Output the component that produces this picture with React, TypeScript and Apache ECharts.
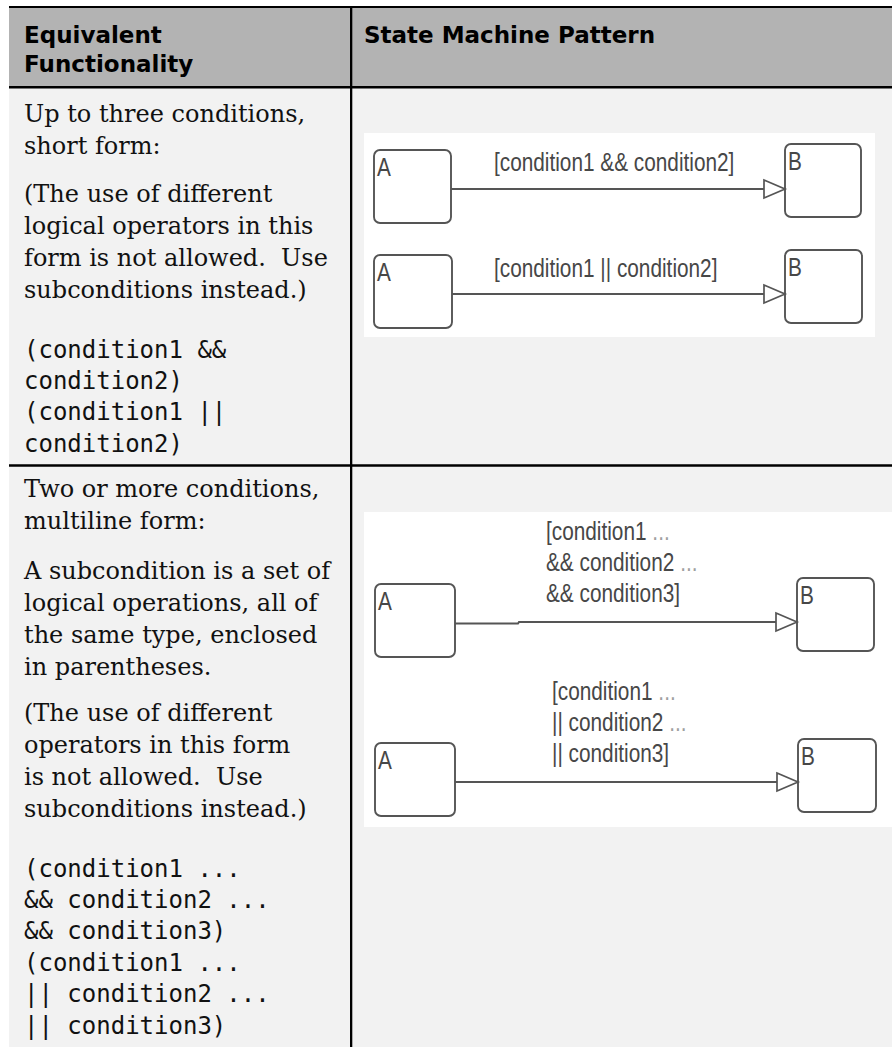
import React, { useEffect, useRef } from "react";
import * as echarts from "echarts";

// ---- content ----
const headerLeft = ["Equivalent", "Functionality"];
const headerRight = ["State Machine Pattern"];

const row1Prose = [
  ["Up to three conditions,", "short form:"],
  ["(The use of different", "logical operators in this", "form is not allowed.  Use", "subconditions instead.)"],
];
const row1Code = ["(condition1 &&", "condition2)", "(condition1 ||", "condition2)"];

const row2Prose = [
  ["Two or more conditions,", "multiline form:"],
  ["A subcondition is a set of", "logical operations, all of", "the same type, enclosed", "in parentheses."],
  ["(The use of different", "operators in this form", "is not allowed.  Use", "subconditions instead.)"],
];
const row2Code = ["(condition1 ...", "&& condition2 ...", "&& condition3)", "(condition1 ...", "|| condition2 ...", "|| condition3)"];

const stateNames = ["A", "B"];
const shortFormLabels = [["[condition1 && condition2]"], ["[condition1 || condition2]"]];
const multilineLabels = [
  ["[condition1 ...", "&& condition2 ...", "&& condition3]"],
  ["[condition1 ...", "|| condition2 ...", "|| condition3]"],
];

// ---- layout ----
const W = 892;
const H = 1047;
const TABLE_L = 9;
const COL_X = 350;
const TEXT_X = 24;
const RIGHT_TEXT_X = 364;
const SERIF = "'DejaVu Serif', serif";
const SANS_BOLD = "'DejaVu Sans', sans-serif";
const MONO = "'DejaVu Sans Mono', monospace";
const DIAG = "'Liberation Sans', Arial, sans-serif";
const PROSE_FS = 24;
const MONO_FS = 24;
const DIAG_FS = 26;
const DIAG_SX = 0.8;
const DIAG_COLOR = "#474747";
const DOTS_COLOR = "#a0a0a0";
const BOX_STROKE = "#555555";

function richify(text: string) {
  // render trailing ellipsis in lighter grey, like the diagram source
  return text.replace(/\.\.\./g, "{dots|...}");
}

function textEl(text: string, x: number, baseline: number, fs: number, family: string, opts: any = {}) {
  const style: any = {
    text: opts.rich ? richify(text) : text,
    fontSize: fs,
    fontFamily: family,
    fontWeight: opts.weight ?? "normal",
    fill: opts.color ?? "#111",
    align: "left",
    verticalAlign: "middle",
  };
  if (opts.rich) {
    style.rich = { dots: { fill: DOTS_COLOR, fontSize: fs, fontFamily: family } };
  }
  return {
    type: "text",
    x,
    y: baseline - 0.346 * fs,
    scaleX: opts.scaleX ?? 1,
    silent: true,
    style,
  };
}

function block(lines: string[], x: number, startBaseline: number, fs: number, family: string, lh: number, opts: any = {}) {
  return lines.map((t, i) => textEl(t, x, startBaseline + i * lh, fs, family, opts));
}

function stateBox(name: string, x: number, y: number, w: number, h: number) {
  return [
    {
      type: "rect",
      silent: true,
      shape: { x, y, width: w, height: h, r: 6 },
      style: { fill: "#fff", stroke: BOX_STROKE, lineWidth: 1.9 },
    },
    textEl(name, x + 3, y + 26, DIAG_FS, DIAG, { scaleX: 0.8, color: DIAG_COLOR }),
  ];
}

function transition(t: any, labels: string[]) {
  const els: any[] = [];
  els.push(...stateBox(stateNames[0], t.ax, t.ay, t.aw, 73));
  els.push(...stateBox(stateNames[1], t.bx, t.by, t.bw, 73));
  const tip = t.bx;
  const base = tip - 21;
  const start = t.ax + t.aw;
  const pts = t.jog
    ? [[start, t.lineY + t.jog], [t.jogX, t.lineY + t.jog], [t.jogX + 1, t.lineY], [base, t.lineY]]
    : [[start, t.lineY], [base, t.lineY]];
  els.push({ type: "polyline", silent: true, shape: { points: pts }, style: { stroke: BOX_STROKE, lineWidth: 2, fill: null } });
  els.push({
    type: "polygon",
    silent: true,
    shape: { points: [[base, t.lineY - 9], [tip, t.lineY], [base, t.lineY + 9]] },
    style: { fill: "#fff", stroke: BOX_STROKE, lineWidth: 1.7 },
  });
  els.push(...block(labels, t.lx, t.lb, DIAG_FS, DIAG, 31.3, { scaleX: DIAG_SX, color: DIAG_COLOR, rich: true }));
  return els;
}

function buildGraphic() {
  const g: any[] = [];
  // backgrounds
  g.push({ type: "rect", silent: true, shape: { x: TABLE_L, y: 7, width: W - TABLE_L, height: H - 7 }, style: { fill: "#f2f2f2" } });
  g.push({ type: "rect", silent: true, shape: { x: TABLE_L, y: 7, width: W - TABLE_L, height: 80 }, style: { fill: "#b3b3b3" } });
  // rules
  g.push({ type: "rect", silent: true, shape: { x: TABLE_L, y: 6, width: W - TABLE_L, height: 2 }, style: { fill: "#000" } });
  g.push({ type: "rect", silent: true, shape: { x: TABLE_L, y: 86, width: W - TABLE_L, height: 2.6 }, style: { fill: "#000" } });
  g.push({ type: "rect", silent: true, shape: { x: TABLE_L, y: 464.3, width: W - TABLE_L, height: 2.4 }, style: { fill: "#000" } });
  g.push({ type: "rect", silent: true, shape: { x: COL_X, y: 6, width: 2.3, height: H - 6 }, style: { fill: "#000" } });

  // header
  g.push(...block(headerLeft, TEXT_X, 43, 23, SANS_BOLD, 29, { weight: "bold", color: "#000" }));
  g.push(...block(headerRight, RIGHT_TEXT_X, 43, 23, SANS_BOLD, 29, { weight: "bold", color: "#000" }));

  // row 1 left
  const r1Starts = [122, 202];
  row1Prose.forEach((p, i) => g.push(...block(p, TEXT_X, r1Starts[i], PROSE_FS, SERIF, 32)));
  g.push(...block(row1Code, TEXT_X, 358, MONO_FS, MONO, 31.4));

  // row 2 left
  const r2Starts = [497, 579, 721];
  row2Prose.forEach((p, i) => g.push(...block(p, TEXT_X, r2Starts[i], PROSE_FS, SERIF, 32)));
  g.push(...block(row2Code, TEXT_X, 877, MONO_FS, MONO, 31.4));

  // diagram 1 (short form)
  g.push({ type: "rect", silent: true, shape: { x: 364, y: 133, width: 511, height: 204 }, style: { fill: "#fff" } });
  const d1 = [
    { ax: 374, ay: 150, aw: 77, bx: 785, by: 144, bw: 76, lineY: 189, lx: 494, lb: 171 },
    { ax: 374, ay: 255, aw: 78, bx: 785, by: 250, bw: 77, lineY: 294, lx: 494, lb: 277 },
  ];
  d1.forEach((t, i) => g.push(...transition(t, shortFormLabels[i])));

  // diagram 2 (multiline form)
  g.push({ type: "rect", silent: true, shape: { x: 364, y: 512, width: W - 364, height: 315 }, style: { fill: "#fff" } });
  const d2 = [
    { ax: 375, ay: 584, aw: 80, bx: 797, by: 578, bw: 77, lineY: 622, lx: 546, lb: 540, jog: 1.5, jogX: 518 },
    { ax: 375, ay: 743, aw: 80, bx: 798, by: 739, bw: 78, lineY: 782, lx: 552, lb: 700 },
  ];
  d2.forEach((t, i) => g.push(...transition(t, multilineLabels[i])));
  return g;
}

export default function App() {
  const ref = useRef<HTMLDivElement>(null);
  useEffect(() => {
    if (!ref.current) return;
    const chart = echarts.init(ref.current, null, { renderer: "svg", width: W, height: H });
    chart.setOption({ animation: false, graphic: { elements: buildGraphic() } });
    return () => chart.dispose();
  }, []);
  return <div ref={ref} style={{ position: "absolute", left: 0, top: 0, width: W, height: H, background: "#fff" }} />;
}
